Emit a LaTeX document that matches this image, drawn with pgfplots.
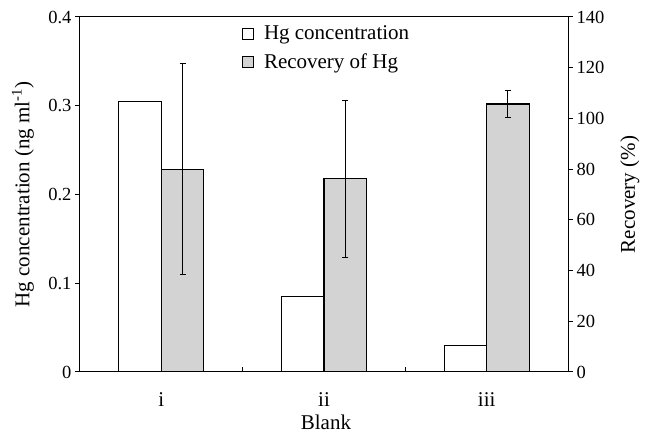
\documentclass[border=0pt]{standalone}
\usepackage{pgfplots}
\pgfplotsset{compat=1.18}
\usetikzlibrary{calc}
\usepackage{fontspec}
\setmainfont{Liberation Serif}
\definecolor{bargray}{RGB}{211,211,211}
\begin{document}
\begin{tikzpicture}
\pgfplotsset{
 common/.style={
  scale only axis, width=488pt, height=355pt,
  xmin=-0.5, xmax=2.5,
  /pgf/number format/assume math mode=true,
  tick label style={font=\fontsize{18.5}{20}\selectfont},
  axis line style={line width=1pt},
  major tick length=5pt,
  every tick/.style={black, line width=1pt},
 }
}
% left axis with Hg concentration
\begin{axis}[common, name=ax,
  ymin=0, ymax=0.4, ytick={0,0.1,0.2,0.3,0.4},
  yticklabels={0,0.1,0.2,0.3,0.4},
  ytick pos=left, tick align=outside,
  xtick={0,1,2}, xticklabels={i,ii,iii}, xtick pos=bottom,
  xtick style={draw=none},
  xticklabel style={anchor=base, yshift=-30pt, inner sep=0pt, font=\fontsize{21}{24}\selectfont},
  ylabel={Hg concentration (ng ml\textsuperscript{-1})},
  every axis y label/.style={at={(axis description cs:-0.117,0.5)}, rotate=90, anchor=center, font=\fontsize{21}{24}\selectfont},
  xlabel={Blank},
  every axis x label/.style={at={(axis description cs:0.504,-0.141)}, anchor=center, inner sep=0pt, font=\fontsize{21}{24}\selectfont},
]
\addplot[ybar, bar width=42.5pt, bar shift=-21.25pt, fill=white, draw=black, line width=1.1pt]
 coordinates {(0,0.305) (1,0.085) (2,0.030)};
\end{axis}
% right axis with Recovery
\begin{axis}[common,
  ymin=0, ymax=140, ytick={0,20,...,140},
  axis y line*=right, axis x line=none, tick align=outside,
  ylabel={Recovery (\%)},
  every axis y label/.style={at={(axis description cs:1.127,0.5)}, rotate=90, anchor=center, font=\fontsize{21}{24}\selectfont},
  legend cell align=left,
  legend image code/.code={\draw[#1, line width=0.8pt] (0pt,-5.5pt) rectangle (11pt,5.5pt);},
  legend style={at={(rel axis cs:0.332,0.978)}, anchor=north west, draw=none, fill=none,
    font=\fontsize{21}{24}\selectfont, row sep=10pt, column sep=9pt, inner sep=0pt,
    nodes={inner sep=1pt}},
]
\addlegendimage{fill=white, draw=black}
\addlegendentry{Hg concentration}
\addplot[ybar, bar width=42.5pt, bar shift=21.25pt, fill=bargray, draw=black, line width=1.1pt,
  error bars/.cd, y dir=both, y explicit,
  error bar style={line width=1pt, black, xshift=21.25pt},
  error mark options={rotate=90, mark size=3pt, line width=1pt, black}]
 coordinates {(0,80) +- (0,41.5) (1,76.2) +- (0,31) (2,105.7) +- (0,5.5)};
\addlegendentry{Recovery of Hg}
\end{axis}
% x minor ticks pointing inward
\begin{axis}[common,
  ymin=0, ymax=1, hide y axis, axis x line*=bottom, tick align=inside,
  xtick={0.5,1.5}, xticklabels={},
]
\end{axis}
\pgfresetboundingbox
\path ($(ax.south west)+(-80pt,-61pt)$) rectangle ($(ax.north east)+(78pt,17pt)$);
\end{tikzpicture}
\end{document}
